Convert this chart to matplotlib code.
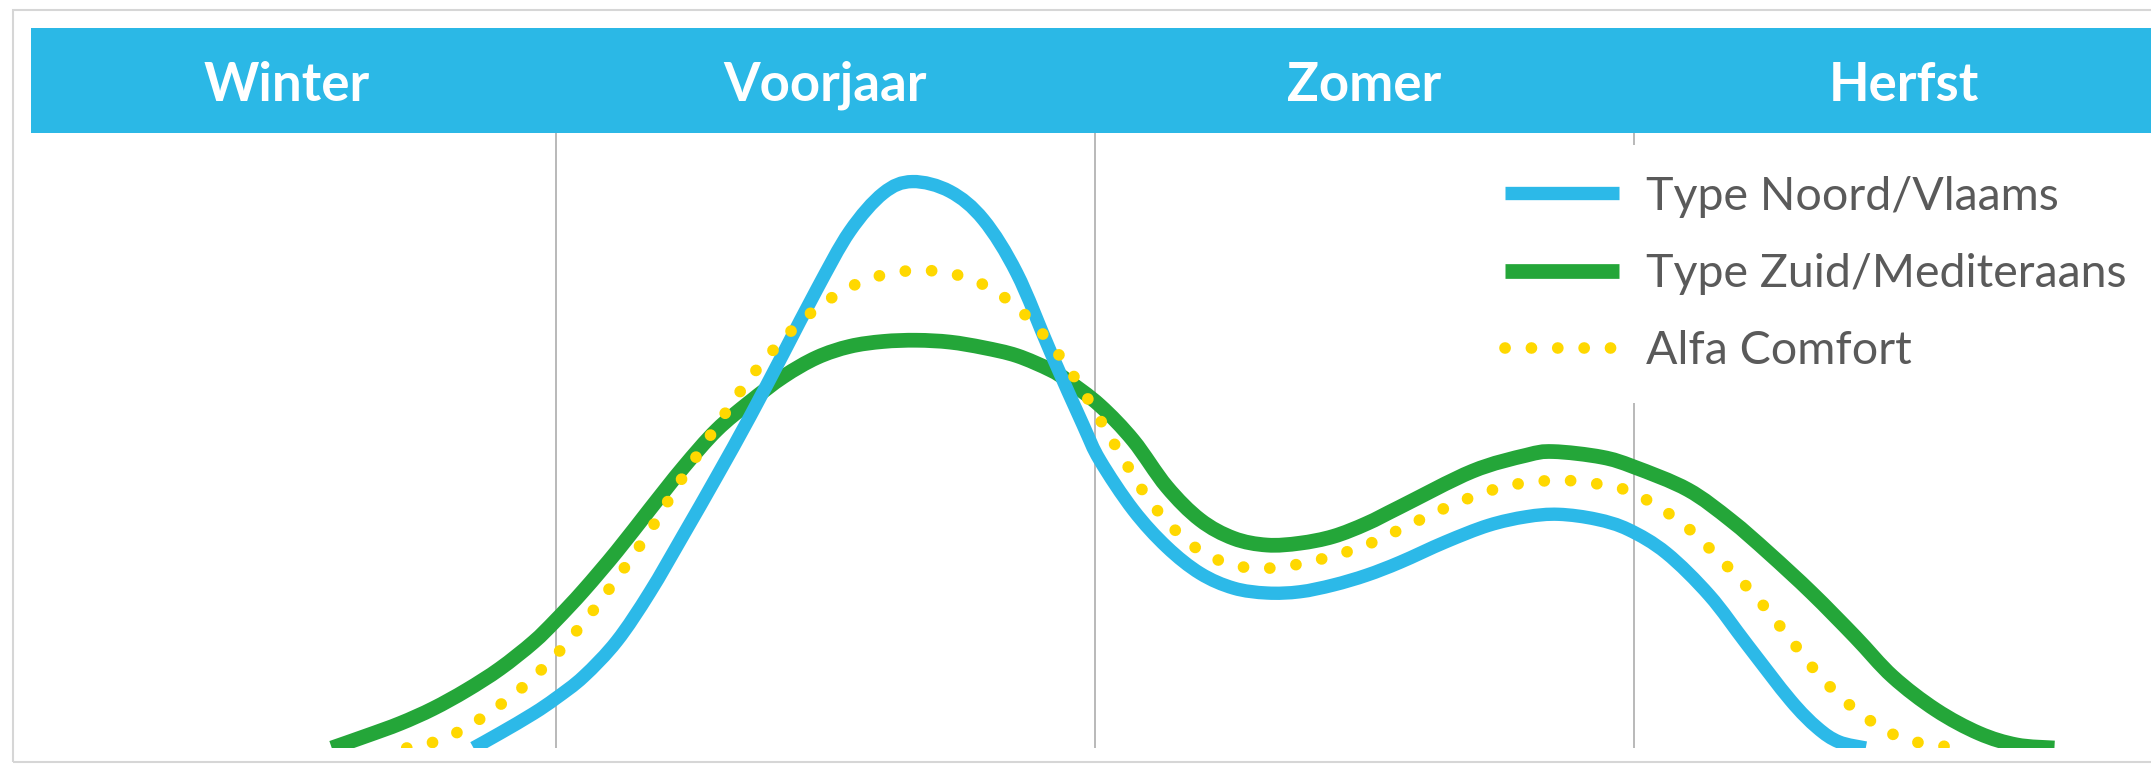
import matplotlib
matplotlib.use("Agg")
import matplotlib.pyplot as plt
from matplotlib.patches import Rectangle, PathPatch
from matplotlib.path import Path
from matplotlib.lines import Line2D

plt.rcParams['font.family'] = ['Lato', 'DejaVu Sans']

# seizoenen (kolommen)
seasons = ['Winter', 'Voorjaar', 'Zomer', 'Herfst']

# x in seizoen-eenheden (0 = begin winter, 4 = eind herfst), y = relatieve behoefte (0-100)
noord_x = [0.847, 0.896, 0.958, 1.0, 1.051, 1.113, 1.174, 1.236, 1.298, 1.36, 1.422, 1.484,
           1.545, 1.607, 1.661, 1.731, 1.793, 1.855, 1.917, 1.978, 2.009, 2.071, 2.133, 2.195,
           2.257, 2.319, 2.38, 2.442, 2.504, 2.566, 2.65, 2.73, 2.80, 2.86, 2.93, 2.99, 3.06,
           3.14, 3.21, 3.29, 3.34, 3.38, 3.43]
noord_y = [0, 2.4, 5.6, 8.1, 11.6, 17.4, 25.3, 34.6, 44.1, 53.9, 64.2, 74.6,
           84.0, 90.2, 92.1, 90.5, 85.9, 77.2, 64.5, 52.5, 46.8, 38.7, 32.7, 28.4,
           26.0, 25.2, 25.4, 26.5, 28.1, 30.2, 33.5, 36.2, 37.6, 38.0, 37.2, 35.5, 31.7,
           24.8, 16.8, 7.8, 3.3, 1.0, 0]

zuid_x = [0.584, 0.649, 0.711, 0.772, 0.834, 0.896, 0.958, 1.0, 1.051, 1.113, 1.174, 1.236,
          1.298, 1.36, 1.422, 1.484, 1.545, 1.607, 1.669, 1.731, 1.793, 1.855, 1.917, 1.948,
          2.009, 2.071, 2.133, 2.195, 2.257, 2.319, 2.38, 2.442, 2.504, 2.566, 2.70, 2.80,
          2.85, 2.94, 3.00, 3.10, 3.18, 3.25, 3.33, 3.41, 3.48, 3.56, 3.64, 3.71, 3.78]
zuid_y = [0, 2.0, 4.0, 6.4, 9.4, 12.9, 17.2, 20.8, 25.6, 32.0, 38.8, 45.6,
          51.7, 56.3, 60.4, 63.5, 65.3, 66.1, 66.3, 66.0, 65.1, 63.8, 61.5, 59.8,
          55.7, 50.0, 42.5, 37.1, 34.1, 33.0, 33.3, 34.4, 36.5, 39.2, 45.0, 47.6,
          48.2, 47.3, 45.7, 42, 37, 31.7, 25.2, 18.1, 11.6, 6.2, 2.4, 0.5, 0]

alfa_x = [0.723, 0.771, 0.816, 0.857, 0.896, 0.933, 0.969, 1.003, 1.034, 1.065, 1.094, 1.122,
          1.150, 1.177, 1.202, 1.227, 1.253, 1.280, 1.306, 1.334, 1.362, 1.392, 1.425, 1.459,
          1.496, 1.538, 1.581, 1.628, 1.675, 1.725, 1.771, 1.815, 1.853, 1.889, 1.920, 1.949,
          1.975, 2.001, 2.025, 2.051, 2.075, 2.103, 2.134, 2.168, 2.208, 2.254, 2.302, 2.351,
          2.400, 2.448, 2.495, 2.541, 2.67, 2.77, 2.87, 2.96, 3.01, 3.09, 3.16, 3.23, 3.29,
          3.35, 3.42, 3.50, 3.60]
alfa_y = [0, 0.9, 2.5, 4.6, 7.0, 9.5, 12.4, 15.4, 18.6, 21.9, 25.3, 28.7,
          32.2, 35.7, 39.3, 42.9, 46.4, 50.0, 53.4, 57.0, 60.4, 63.6, 66.8, 69.7,
          72.3, 74.6, 76.3, 77.3, 77.7, 77.3, 76.2, 74.3, 71.8, 68.8, 65.4, 62.0,
          58.4, 54.7, 51.0, 47.3, 43.7, 40.0, 36.8, 33.8, 31.4, 29.8, 29.2, 29.5,
          30.3, 31.4, 32.7, 34.5, 39.8, 42.7, 43.5, 42.5, 41.0, 36.5, 30.7, 24.2, 17.7,
          11.2, 5.6, 1.5, 0]

labels = ['Type Noord/Vlaams', 'Type Zuid/Mediteraans', 'Alfa Comfort']

BLUE = '#2cb9e8'
GREEN = '#24a639'
YELLOW = '#ffd800'
HEADER = '#2bb8e6'

W, H = 2151, 764
COL0, COLW = 17, 539  # pixel start and width of one season column

def fx(px):
    return px / W

def fy(py):
    return 1 - py / H

def smooth_path(xs, ys):
    # bezier through the points (catmull-rom control points), drawn by matplotlib
    pts = list(zip(xs, ys))
    n = len(pts)
    verts = [pts[0]]
    codes = [Path.MOVETO]
    for i in range(n - 1):
        p0 = pts[max(i - 1, 0)]
        p1 = pts[i]
        p2 = pts[i + 1]
        p3 = pts[min(i + 2, n - 1)]
        c1 = (p1[0] + (p2[0] - p0[0]) / 6, p1[1] + (p2[1] - p0[1]) / 6)
        c2 = (p2[0] - (p3[0] - p1[0]) / 6, p2[1] - (p3[1] - p1[1]) / 6)
        verts += [c1, c2, p2]
        codes += [Path.CURVE4] * 3
    return Path(verts, codes)

fig = plt.figure(figsize=(W / 100, H / 100), dpi=100)

# frame
fig.add_artist(Rectangle((fx(13), fy(762)), 1, (762 - 10) / H, transform=fig.transFigure,
                         fill=False, edgecolor='#d6d6d6', lw=1.5))

# plot area
ax = fig.add_axes([0, fy(748), 1, (748 - 133) / H])
ax.set_xlim(-COL0 / COLW, (W - COL0) / COLW)
ax.set_ylim(0, 100)
ax.axis('off')

for b in [1, 2, 3]:
    ax.axvline(b, color='#b3b3b3', lw=1.3, zorder=1)

styles = [
    dict(color=BLUE, lw=9.6, ls='-', zorder=3),
    dict(color=GREEN, lw=10.6, ls='-', zorder=2),
    dict(color=YELLOW, lw=8.4, ls=(0, (0.01, 2.25)), zorder=4),
]
series = [(noord_x, noord_y), (zuid_x, zuid_y), (alfa_x, alfa_y)]

handles = []
for (xs, ys), st, lab in zip(series, styles, labels):
    patch = PathPatch(smooth_path(xs, ys), fill=False, edgecolor=st['color'], lw=st['lw'],
                      linestyle=st['ls'], capstyle='round' if st['ls'] != '-' else 'butt',
                      joinstyle='round', zorder=st['zorder'])
    ax.add_patch(patch)
    h = Line2D([], [], color=st['color'], lw=st['lw'], linestyle=st['ls'],
               dash_capstyle='round', solid_capstyle='butt')
    handles.append(h)

leg = ax.legend(handles, labels, loc='upper left', bbox_to_anchor=(fx(1474), fy(145)),
                bbox_transform=fig.transFigure, fontsize=33.5, frameon=True, framealpha=1,
                facecolor='white', edgecolor='none', handlelength=2.45, handletextpad=0.58,
                labelspacing=0.76, borderaxespad=0, borderpad=0.66, fancybox=False)
leg.set_zorder(5)
for t in leg.get_texts():
    t.set_color('#5a5a5a')

# header band
hx0 = 31
hax = fig.add_axes([fx(hx0), fy(133), 1 - fx(hx0), (133 - 28) / H])
hax.set_facecolor(HEADER)
hax.set_xlim((hx0 - COL0) / COLW, (W - COL0) / COLW)
hax.set_ylim(0, 1)
hax.set_xticks([])
hax.set_yticks([])
for s in hax.spines.values():
    s.set_visible(False)
for i, name in enumerate(seasons):
    hax.text(i + 0.5, 0.45, name, color='white', fontsize=38, fontweight='bold',
             ha='center', va='center')

fig.savefig('out.png', dpi=100)
